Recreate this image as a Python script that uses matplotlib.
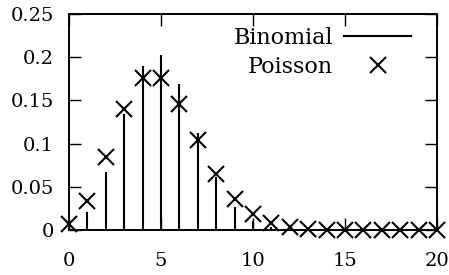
import matplotlib
matplotlib.use("Agg")
import matplotlib.pyplot as plt
from matplotlib.lines import Line2D
from matplotlib.ticker import FuncFormatter

k = list(range(21))
binomial = [0.0032, 0.0211, 0.0669, 0.1339, 0.1897, 0.2023, 0.1686, 0.1124,
            0.0609, 0.0271, 0.0099, 0.0030, 0.0008, 0.0002, 0.0, 0.0,
            0.0, 0.0, 0.0, 0.0, 0.0]
poisson = [0.0067, 0.0337, 0.0842, 0.1404, 0.1755, 0.1755, 0.1462, 0.1044,
           0.0653, 0.0363, 0.0181, 0.0082, 0.0034, 0.0013, 0.0005, 0.0002,
           0.0001, 0.0, 0.0, 0.0, 0.0]
xticks = [0, 5, 10, 15, 20]
yticks = [0, 0.05, 0.1, 0.15, 0.2, 0.25]

plt.rcParams['font.family'] = ['DejaVu Serif']
fs = 14
lfs = 16

fig = plt.figure(figsize=(4.49, 2.75), dpi=100)
ax = fig.add_axes([69/449, 1-230/275, (437-69)/449, (230-14)/275])

ax.vlines(k, 0, binomial, colors='black', linewidth=1.5)
ax.plot(k, poisson, linestyle='none', marker='x', markersize=12,
        markeredgewidth=1.5, color='black', clip_on=False, zorder=5)

ax.set_xlim(0, 20)
ax.set_ylim(0, 0.25)
ax.set_xticks(xticks)
ax.set_yticks(yticks)
ax.yaxis.set_major_formatter(FuncFormatter(lambda v, p: '%g' % round(v, 4)))
ax.tick_params(direction='in', length=8.5, width=1.0, top=True, right=True,
               labelsize=fs, colors='black')
ax.tick_params(axis='x', pad=15.5)
ax.tick_params(axis='y', pad=11)
for s in ax.spines.values():
    s.set_linewidth(1.4)

handles = [Line2D([], [], color='black', linewidth=1.5),
           Line2D([], [], linestyle='none', marker='x', markersize=12,
                  markeredgewidth=1.5, color='black')]
leg = ax.legend(handles, ['Binomial', 'Poisson'], loc='upper right',
                bbox_to_anchor=((411-69)/368, (230-27)/216), frameon=False,
                markerfirst=False, fontsize=lfs, handlelength=3.0,
                handletextpad=0.5, labelspacing=0.3, borderpad=0,
                borderaxespad=0)
try:
    for col in leg._legend_handle_box.get_children():
        col.align = 'right'
except Exception:
    pass

fig.savefig('out.png', dpi=100)
